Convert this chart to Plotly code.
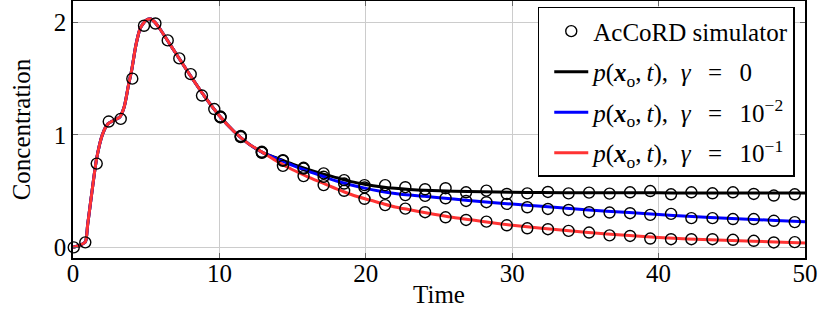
import plotly.graph_objects as go

# ---- curve data (shared rise, then three branches) ----
curve_t_common = [0, 0.5, 0.85, 1.0, 1.3, 1.6, 2.0, 2.4, 2.8, 3.2, 3.5, 3.8, 4.0, 4.3, 4.6, 5.0, 5.3, 5.6,
                  6.0, 6.5, 7.0, 8.0, 9.0, 10.0, 11.0, 12.0, 13.0]
curve_y_common = [0, 0.02, 0.05, 0.2, 0.5, 0.78, 1.0, 1.1, 1.13, 1.16, 1.25, 1.45, 1.57, 1.8, 1.95, 2.02, 2.03, 2.0,
                  1.93, 1.83, 1.73, 1.53, 1.34, 1.17, 1.03, 0.92, 0.84]

curve_t_tail = [14, 15, 16, 17, 18, 19, 20, 21, 22, 23, 24, 26, 28, 30, 32, 35, 38, 40, 42, 45, 48, 50]
curve_y_g0 = [0.79, 0.74, 0.695, 0.655, 0.62, 0.585, 0.56, 0.54, 0.525, 0.515, 0.508, 0.5, 0.495, 0.49, 0.488,
              0.486, 0.485, 0.485, 0.484, 0.484, 0.484, 0.484]
curve_y_g2 = [0.785, 0.73, 0.68, 0.635, 0.59, 0.555, 0.525, 0.5, 0.48, 0.465, 0.455, 0.43, 0.405, 0.385, 0.365,
              0.335, 0.31, 0.292, 0.276, 0.258, 0.24, 0.228]
curve_y_g1 = [0.76, 0.69, 0.63, 0.575, 0.52, 0.47, 0.43, 0.395, 0.36, 0.335, 0.31, 0.265, 0.23, 0.197, 0.17,
              0.135, 0.105, 0.088, 0.075, 0.062, 0.048, 0.04]

# ---- simulator markers ----
sim_t_early = [0.05, 0.84, 1.62, 2.44, 3.26, 4.05, 4.85, 5.63, 6.47, 7.26, 8.04, 8.81, 9.65]
sim_y_early = [0, 0.045, 0.745, 1.119, 1.142, 1.50, 1.97, 1.99, 1.84, 1.68, 1.54, 1.35, 1.23]

sim_t_late = [10.07, 11.46, 12.9, 14.34, 15.75, 17.12, 18.52, 19.91, 21.32, 22.7, 24.05, 25.45, 26.85, 28.24,
              29.63, 31.03, 32.44, 33.85, 35.25, 36.65, 38.05, 39.43, 40.85, 42.24, 43.68, 45.08, 46.5, 47.87, 49.3]
sim_y_g0 = [1.163, 0.99, 0.85, 0.776, 0.708, 0.658, 0.598, 0.554, 0.554, 0.535, 0.517, 0.526, 0.49, 0.505,
            0.475, 0.48, 0.493, 0.48, 0.487, 0.478, 0.49, 0.501, 0.472, 0.49, 0.481, 0.49, 0.475, 0.461, 0.472]
sim_y_g2 = [1.16, 0.985, 0.845, 0.77, 0.70, 0.628, 0.568, 0.533, 0.48, 0.465, 0.458, 0.437, 0.413, 0.402,
            0.387, 0.357, 0.342, 0.333, 0.313, 0.31, 0.304, 0.289, 0.298, 0.26, 0.26, 0.252, 0.252, 0.237, 0.225]
sim_y_g1 = [1.155, 0.98, 0.84, 0.725, 0.634, 0.554, 0.503, 0.432, 0.376, 0.345, 0.313, 0.268, 0.244, 0.229,
            0.197, 0.17, 0.162, 0.147, 0.132, 0.107, 0.102, 0.079, 0.073, 0.073, 0.073, 0.068, 0.059, 0.044, 0.047]

x_ticks = [0, 10, 20, 30, 40, 50]
y_ticks = [0, 1, 2]

FONT = "Liberation Serif"
FS = 25
lab = ("<i>p</i>(<b><i>x</i></b><sub>o</sub>,\u2009<i>t</i>),\u2002<i>γ</i>"
       "\u2002\u2009=\u2002\u2009")
names = [lab + "0", lab + "10<sup>−2</sup>", lab + "10<sup>−1</sup>"]
colors = ["#000000", "#0000ff", "#ff3333"]
tails = [curve_y_g0, curve_y_g2, curve_y_g1]

fig = go.Figure()
for name, col, tail, rank in zip(names, colors, tails, [2, 3, 4]):
    fig.add_trace(go.Scatter(x=curve_t_common + curve_t_tail, y=curve_y_common + tail, mode="lines",
                             line=dict(color=col, width=3, shape="spline", smoothing=0.6),
                             name=name, legendrank=rank, legendgroup="g%d" % rank))

marker_style = dict(symbol="circle-open", size=11, color="black", line=dict(width=1.4, color="black"))
all_sim = [(sim_t_early, sim_y_early), (sim_t_late, sim_y_g0), (sim_t_late, sim_y_g2), (sim_t_late, sim_y_g1)]
for i, (tt, yy) in enumerate(all_sim):
    fig.add_trace(go.Scatter(x=tt, y=yy, mode="markers", marker=marker_style, name="AcCoRD simulator",
                             showlegend=(i == 0), legendrank=1, legendgroup="g1", cliponaxis=False))

axis_common = dict(showline=True, linecolor="black", linewidth=1.5, mirror="ticks",
                   ticks="inside", ticklen=5, tickcolor="#666666", tickwidth=1,
                   showgrid=True, gridcolor="#cccccc", gridwidth=1, zeroline=False, automargin=False,
                   tickfont=dict(family=FONT, size=FS, color="black"))

fig.update_layout(
    width=832, height=320,
    margin=dict(l=73, r=27, t=1, b=62),
    paper_bgcolor="white", plot_bgcolor="white",
    font=dict(family=FONT, size=FS, color="black"),
    xaxis=dict(range=[0, 50], tickvals=x_ticks, **axis_common, ticklabelstandoff=-8,
               title=dict(text="Time", font=dict(family=FONT, size=FS), standoff=0)),
    yaxis=dict(range=[-0.094, 2.19], tickvals=y_ticks, **axis_common, ticklabelstandoff=0,
               title=dict(text="Concentration", font=dict(family=FONT, size=FS), standoff=16)),
    legend=dict(x=0.986, y=0.977, xanchor="right", yanchor="top", bgcolor="white",
                bordercolor="black", borderwidth=1.5, font=dict(family=FONT, size=FS),
                tracegroupgap=5, itemwidth=34, indentation=10),
    showlegend=True,
)

fig.write_html("out.html", config={"displayModeBar": False},
               post_script="document.body.style.margin='0';")
